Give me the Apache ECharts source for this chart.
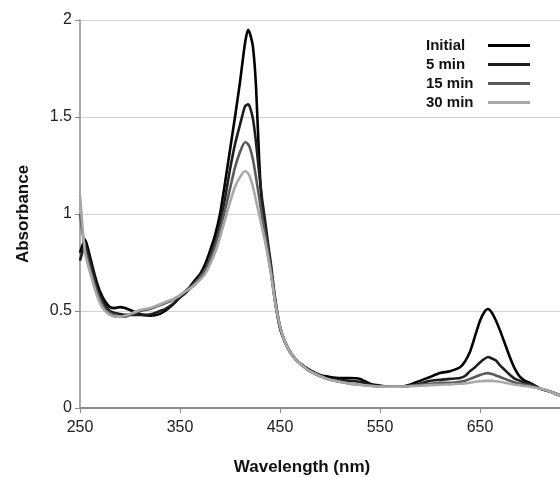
<!DOCTYPE html>
<html>
<head>
<meta charset="utf-8">
<script src="https://cdn.jsdelivr.net/npm/echarts@6/dist/echarts.min.js"></script>
<style>html,body{margin:0;padding:0;background:#fff;}#c{width:560px;height:477px;}</style>
</head>
<body>
<div id="c"></div>
<script>
var wavelengths = [250,255,260,265,270,275,280,285,290,295,300,305,310,315,320,325,330,335,340,345,350,355,360,365,370,375,380,385,390,395,400,405,410,415,418,420,423,426,429,432,435,438,441,445,450,455,460,465,470,480,490,500,510,520,530,540,550,560,570,580,590,600,610,620,630,635,640,645,650,655,658,662,666,670,675,680,685,690,695,700,710,720,730];

var initial = [0.80,0.87,0.78,0.68,0.60,0.55,0.52,0.515,0.52,0.515,0.505,0.495,0.485,0.478,0.476,0.478,0.485,0.50,0.52,0.545,0.575,0.60,0.625,0.66,0.69,0.74,0.81,0.89,1.00,1.16,1.33,1.50,1.68,1.88,1.95,1.93,1.86,1.66,1.30,1.03,0.91,0.79,0.70,0.55,0.41,0.34,0.29,0.255,0.23,0.195,0.17,0.16,0.155,0.155,0.15,0.125,0.115,0.11,0.11,0.12,0.14,0.16,0.18,0.19,0.21,0.24,0.29,0.37,0.45,0.50,0.51,0.49,0.45,0.40,0.33,0.26,0.20,0.16,0.14,0.13,0.10,0.085,0.065];

var min5 = [0.76,0.84,0.76,0.66,0.58,0.53,0.50,0.49,0.485,0.48,0.48,0.48,0.48,0.48,0.482,0.49,0.50,0.51,0.525,0.545,0.57,0.59,0.615,0.64,0.67,0.71,0.77,0.85,0.95,1.08,1.23,1.36,1.46,1.555,1.565,1.55,1.49,1.37,1.22,1.08,0.97,0.85,0.74,0.57,0.42,0.34,0.29,0.255,0.23,0.19,0.165,0.15,0.145,0.14,0.135,0.12,0.115,0.11,0.11,0.115,0.125,0.14,0.145,0.15,0.155,0.165,0.19,0.21,0.235,0.255,0.263,0.255,0.245,0.22,0.195,0.17,0.15,0.14,0.13,0.125,0.10,0.085,0.065];

var min15 = [1.00,0.82,0.72,0.63,0.56,0.51,0.49,0.475,0.47,0.47,0.48,0.49,0.50,0.505,0.51,0.52,0.53,0.54,0.55,0.565,0.58,0.60,0.62,0.645,0.675,0.71,0.76,0.83,0.92,1.02,1.13,1.24,1.32,1.37,1.36,1.34,1.28,1.19,1.09,0.99,0.90,0.81,0.71,0.56,0.42,0.34,0.29,0.255,0.23,0.19,0.165,0.145,0.135,0.125,0.12,0.115,0.11,0.11,0.11,0.115,0.12,0.125,0.13,0.13,0.135,0.14,0.15,0.16,0.17,0.178,0.18,0.175,0.168,0.16,0.15,0.14,0.132,0.125,0.12,0.115,0.10,0.085,0.065];

var min30 = [1.10,0.80,0.70,0.61,0.54,0.50,0.48,0.47,0.47,0.475,0.485,0.495,0.505,0.51,0.515,0.525,0.535,0.545,0.555,0.565,0.58,0.60,0.615,0.635,0.66,0.69,0.74,0.80,0.88,0.97,1.06,1.14,1.19,1.22,1.21,1.19,1.14,1.07,1.00,0.93,0.86,0.78,0.69,0.55,0.42,0.34,0.29,0.255,0.23,0.19,0.165,0.145,0.135,0.125,0.12,0.115,0.11,0.11,0.11,0.112,0.115,0.118,0.12,0.122,0.125,0.127,0.13,0.135,0.138,0.14,0.14,0.14,0.138,0.135,0.13,0.125,0.12,0.117,0.113,0.11,0.10,0.085,0.065];

var seriesNames = ['Initial','5 min','15 min','30 min'];
var seriesValues = [initial, min5, min15, min30];
var seriesColors = ['#000000','#1e1e1e','#5a5a5a','#a8a8a8'];
var yTicks = [0, 0.5, 1, 1.5, 2];
var xTicks = [250, 350, 450, 550, 650];

function pairs(vals){ return wavelengths.map(function(w,i){ return [w, vals[i]]; }); }

var chart = echarts.init(document.getElementById('c'), null, {renderer:'canvas'});
var FONT = 'Liberation Sans, Arial, sans-serif';
chart.setOption({
  animation: false,
  backgroundColor: '#ffffff',
  grid: {left: 80, right: 0, top: 20, bottom: 69, containLabel: false},
  legend: {
    orient: 'vertical',
    left: 421, top: 33,
    align: 'right',
    icon: 'rect',
    itemWidth: 42, itemHeight: 3,
    itemGap: 4,
    data: seriesNames,
    formatter: function(n){ return '{t|' + n + '}'; },
    textStyle: {
      fontFamily: FONT, fontSize: 15, fontWeight: 'bold', color: '#111',
      rich: {t: {width: 57, align: 'left', fontFamily: FONT, fontSize: 15, fontWeight: 'bold', color: '#111', lineHeight: 17}}
    }
  },
  xAxis: {
    type: 'value', min: 250, max: 730, interval: 100,
    axisLine: {show: true, lineStyle: {color: '#8c8c8c', width: 2}},
    axisTick: {show: true, length: 5, lineStyle: {color: '#8c8c8c'}},
    axisLabel: {showMaxLabel: false, fontFamily: FONT, fontSize: 16, color: '#222', margin: 12,
      formatter: function(v){ return xTicks.indexOf(v) >= 0 ? String(v) : ''; }},
    splitLine: {show: false}
  },
  yAxis: {
    type: 'value', min: 0, max: 2, interval: 0.5,
    name: 'Absorbance', nameLocation: 'middle', nameGap: 48,
    nameTextStyle: {fontFamily: FONT, fontSize: 17, fontWeight: 'bold', color: '#111'},
    axisLine: {show: true, lineStyle: {color: '#8c8c8c', width: 1.5}},
    axisTick: {show: true, length: 5, lineStyle: {color: '#8c8c8c'}},
    axisLabel: {fontFamily: FONT, fontSize: 16, color: '#222', margin: 8,
      formatter: function(v){ return yTicks.indexOf(v) >= 0 ? String(v) : ''; }},
    splitLine: {show: true, lineStyle: {color: '#d4d4d4', width: 1}}
  },
  graphic: [{
    type: 'text', x: 302, y: 467,
    style: {text: 'Wavelength (nm)', font: 'bold 17px ' + FONT, fill: '#111', align: 'center', verticalAlign: 'middle'}
  }],
  series: seriesNames.map(function(n, i){
    return {
      name: n, type: 'line', data: pairs(seriesValues[i]),
      showSymbol: false, symbol: 'none', smooth: 0.2,
      color: seriesColors[i],
      lineStyle: {color: seriesColors[i], width: 2.6},
      z: 2 + i
    };
  })
});
</script>
</body>
</html>
